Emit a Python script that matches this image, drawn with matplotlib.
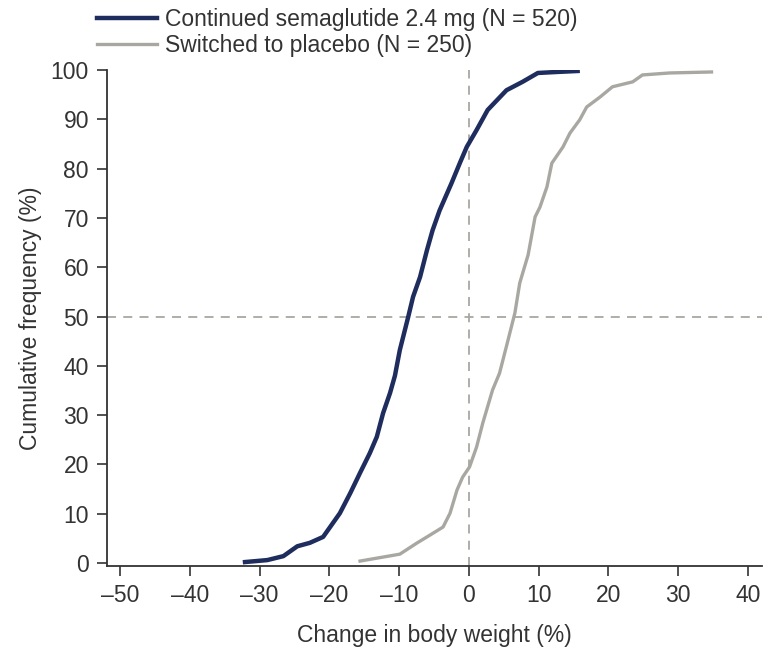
import matplotlib.pyplot as plt

plt.rcParams['font.family'] = ['Liberation Sans', 'DejaVu Sans']

# values (change in body weight %, cumulative %)
sema_x = [-32.1, -28.9, -26.6, -24.6, -22.8, -20.9, -19.9, -18.5, -17.0, -15.6,
          -14.2, -13.2, -12.3, -11.3, -10.6, -9.9, -8.7, -8.0, -7.0, -6.0, -5.2,
          -4.2, -2.5, -1.3, -0.3, 1.1, 2.7, 5.4, 7.7, 9.9, 12.6, 15.6]
sema_y = [0.2, 0.6, 1.4, 3.4, 4.1, 5.3, 7.3, 10.1, 14.2, 18.3,
          22.3, 25.6, 30.4, 34.5, 38.0, 43.2, 49.9, 54.0, 58.0, 63.5, 67.5,
          71.5, 77.0, 81.1, 84.4, 87.8, 91.9, 95.9, 97.6, 99.4, 99.6, 99.8]

plac_x = [-15.6, -9.9, -7.4, -6.0, -3.7, -2.7, -1.7, -0.9, 0.1, 1.1, 2.0, 3.4,
          4.4, 5.4, 6.6, 7.3, 8.5, 9.5, 10.2, 11.2, 11.9, 13.5, 14.5, 15.9,
          16.9, 18.8, 20.6, 23.5, 24.9, 28.8, 34.8]
plac_y = [0.4, 1.8, 4.1, 5.3, 7.3, 10.1, 14.8, 17.4, 19.5, 23.5, 28.4, 35.1,
          38.5, 44.0, 50.7, 56.8, 62.5, 70.2, 72.2, 76.3, 81.1, 84.4, 87.2, 89.9,
          92.5, 94.5, 96.6, 97.6, 99.0, 99.4, 99.6]

labels = ['Continued semaglutide 2.4 mg (N = 520)', 'Switched to placebo (N = 250)']
xticks = [-50, -40, -30, -20, -10, 0, 10, 20, 30, 40]
yticks = [0, 10, 20, 30, 40, 50, 60, 70, 80, 90, 100]

navy = '#1f2d5e'
grey = '#a9a7a1'
txt = '#333333'
fs = 16.5

fig = plt.figure(figsize=(7.64, 6.47), dpi=100)
ax = fig.add_axes([0.140, 0.1252, 0.857, 0.7666])

ax.axvline(0, color=grey, lw=1.3, ls=(0, (5, 4)), zorder=1)
ax.axhline(50, color=grey, lw=1.3, ls=(0, (5, 4)), zorder=1)

ax.plot(sema_x, sema_y, color=navy, lw=3.2, label=labels[0], zorder=3)
ax.plot(plac_x, plac_y, color=grey, lw=2.4, label=labels[1], zorder=2)

ax.set_xlim(-51.9, 42.0)
ax.set_ylim(-0.6, 100)
ax.set_xticks(xticks)
ax.set_xticklabels(['\u2013%d' % -v if v < 0 else str(v) for v in xticks])
ax.set_yticks(yticks)

for s in ['top', 'right']:
    ax.spines[s].set_visible(False)
for s in ['left', 'bottom']:
    ax.spines[s].set_color(txt)
    ax.spines[s].set_linewidth(1.3)
ax.tick_params(direction='out', length=7, width=1.2, color=txt,
               labelsize=fs, labelcolor=txt, pad=6)

ax.set_xlabel('Change in body weight (%)', fontsize=fs, color=txt, labelpad=12)
ax.set_ylabel('Cumulative frequency (%)', fontsize=fs, color=txt, labelpad=6)

ax.legend(loc='upper left', bbox_to_anchor=(0.127, 0.987),
          bbox_transform=fig.transFigure, frameon=False, borderpad=0,
          borderaxespad=0, fontsize=fs, handlelength=2.6, handletextpad=0.35,
          labelspacing=0.1, labelcolor=txt)

fig.savefig('out.png', dpi=100)
